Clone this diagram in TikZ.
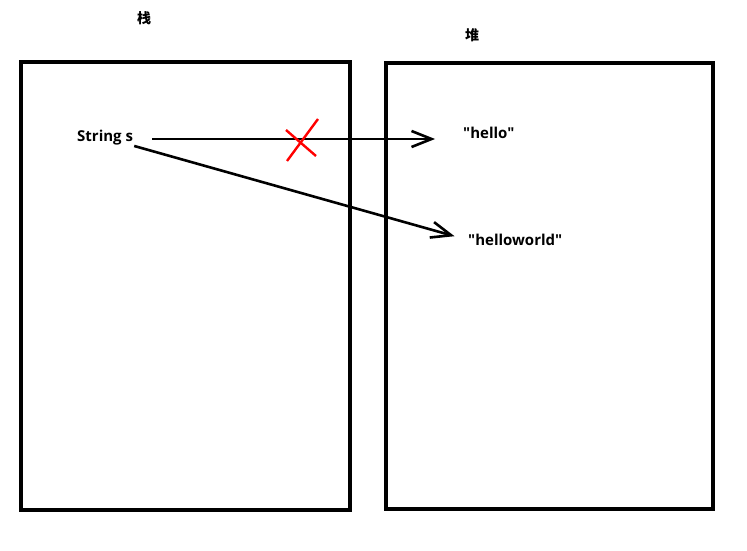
\documentclass[tikz,border=0pt]{standalone}
\usepackage{fontspec}
\setmainfont{Open Sans}[Ligatures=TeXOff]
\newfontfamily\cjk{Noto Sans CJK SC}
\usetikzlibrary{arrows.meta}
\begin{document}
\begin{tikzpicture}[x=1pt,y=-1pt,
	mem/.style={draw,line width=3.2pt,inner sep=0pt},
	lbl/.style={font=\bfseries\fontsize{15}{17}\selectfont,inner sep=0pt},
	ptr/.style={line width=2.6pt,-{Straight Barb[length=20pt,width=16pt,line width=2.6pt]}}]
		\useasboundingbox (0,0) rectangle (747,551);
		% boxes
		\node[mem,minimum width=329pt,minimum height=448pt] (stack) at (185.5,286) {};
		\node[mem,minimum width=327pt,minimum height=446pt] (heap) at (549.5,286) {};
		\node[lbl,font=\bfseries\fontsize{14}{16}\selectfont] (stacklbl) at (144,18) {\cjk 栈};
		\node[lbl,font=\bfseries\fontsize{14}{16}\selectfont] (heaplbl) at (472,35) {\cjk 堆};
		% variables and values
		\node[lbl,anchor=west] (str) at (77,138) {String s};
		\node[lbl,anchor=west] (hello) at (463,133) {"hello"};
		\node[lbl,anchor=west] (hw) at (468,240) {"helloworld"};
		% pointers
		\draw[ptr,shorten <=19pt,shorten >=28pt] (str.east |- 0,139) -- (hello.west |- 0,139);
		\draw[ptr,shorten <=1pt,shorten >=14pt] (str.south east) -- (hw.west);
		% old link crossed out
		\coordinate (cross) at (301,140);
		\draw[red,line width=2.4pt] (cross) ++(-15,-10) -- ++(30,26);
		\draw[red,line width=2.4pt] (cross) ++(17,-21) -- ++(-31,42);
\end{tikzpicture}
\end{document}
